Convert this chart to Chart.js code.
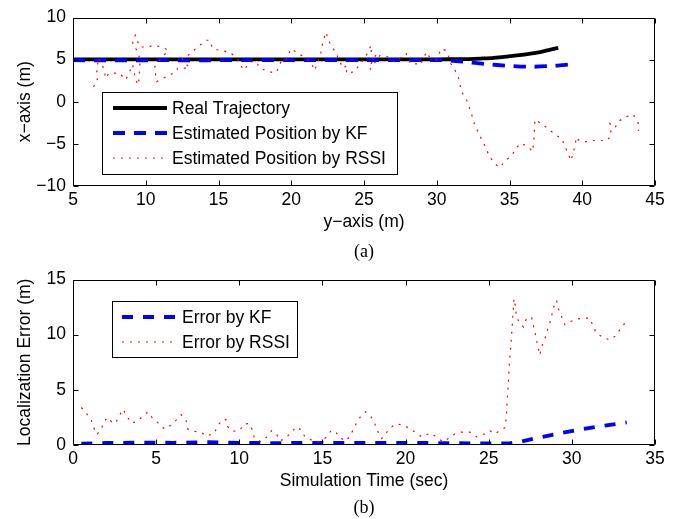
<!DOCTYPE html>
<html><head><meta charset="utf-8">
<script src="https://cdn.jsdelivr.net/npm/chart.js@4"></script>
<style>
html,body{margin:0;padding:0;background:#fff;}
#wrap{position:relative;width:681px;height:519px;overflow:hidden;background:#fff;}
canvas{position:absolute;left:0;}
#c1{top:0;} #c2{top:262px;}
.cap{position:absolute;left:73px;width:582px;text-align:center;font-family:"Liberation Serif","Times New Roman",serif;font-size:18px;color:#000;line-height:20px;}
#capA{top:241px;} #capB{top:497px;}
</style></head>
<body><div id="wrap">
<canvas id="c1" width="681" height="262"></canvas>
<canvas id="c2" width="681" height="257"></canvas>
<div class="cap" id="capA">(a)</div>
<div class="cap" id="capB">(b)</div>
</div>
<script>
// ---------- (a) trajectory: horizontal = "y-axis (m)", vertical = "x-axis (m)" ----------
const realY = [5, 10, 15, 20, 25, 30, 31.6, 33, 33.9, 35.5, 37.1, 38.35];
const realX = [5.03, 5.03, 5.03, 5.03, 5.03, 5.04, 5.06, 5.13, 5.2, 5.5, 5.9, 6.4];

const kfY = [5, 8, 11, 14, 17, 20, 23, 26, 29, 30.5, 31.9, 33.4, 34.9, 36.4, 37.9, 39.3];
const kfX = [4.93, 4.9, 4.93, 4.92, 4.95, 4.95, 4.93, 4.95, 4.95, 4.93, 4.74, 4.47, 4.27, 4.15, 4.25, 4.45];

const rssiY = [6.4, 6.7, 6.6, 6.7, 6.7, 7.0, 7.2, 7.2, 7.5, 7.8, 8.2, 8.6, 8.8, 9.1, 9.3, 9.5, 9.6, 9.6, 9.5, 9.1, 9.1, 9.3, 9.5, 9.6, 10.2, 10.5, 11.1, 11.55, 11.0, 10.6, 10.75, 11.2, 11.7, 12.1, 12.2, 12.7, 13.0, 12.5, 12.9, 13.3, 13.7, 14.2, 14.4, 14.6, 15.1, 15.7, 16.25, 16.5, 16.7, 17.05, 17.4, 17.6, 17.85, 18.4, 18.9, 19.2, 19.3, 19.6, 20.0, 20.5, 21.1, 21.4, 21.6, 22.0, 22.1, 22.2, 22.4, 22.5, 22.8, 23.1, 23.35, 23.6, 23.8, 23.8, 24.4, 24.7, 25.1, 25.3, 25.5, 25.5, 25.8, 25.5, 25.4, 26.1, 26.7, 27.1, 27.5, 27.9, 28.2, 28.7, 28.85, 29.3, 29.5, 30.0, 30.3, 30.6, 30.8, 30.9, 31.25, 31.5, 31.7, 32.05, 32.4, 32.6, 32.95, 33.3, 33.65, 34.1, 34.35, 34.7, 35.15, 35.5, 35.8, 36.3, 36.6, 36.7, 36.75, 37.3, 37.7, 38.1, 38.6, 38.8, 39.05, 39.2, 39.35, 39.5, 39.6, 39.7, 40.1, 40.6, 41.15, 41.7, 42.0, 41.9, 42.25, 42.5, 43.0, 43.5, 43.9, 43.85];
const rssiX = [1.8, 2.4, 3.2, 4.2, 5.2, 4.35, 3.6, 2.8, 3.4, 3.4, 3.4, 2.6, 3.2, 4.4, 2.6, 2.0, 4.2, 4.7, 5.9, 6.7, 7.5, 7.9, 6.9, 6.5, 6.5, 6.7, 6.5, 6.1, 5.0, 4.1, 2.4, 2.8, 3.2, 3.6, 4.0, 4.0, 4.0, 5.1, 5.5, 6.1, 6.7, 7.3, 7.3, 6.3, 6.1, 5.9, 5.3, 4.5, 3.75, 4.35, 4.9, 4.7, 4.0, 3.6, 3.4, 4.15, 4.9, 4.9, 6.3, 5.7, 5.1, 4.5, 3.7, 5.5, 6.4, 7.3, 8.25, 7.5, 6.5, 5.7, 4.7, 3.95, 4.35, 3.35, 3.6, 4.5, 5.2, 6.1, 6.7, 5.7, 5.5, 4.5, 3.8, 5.5, 5.3, 4.7, 5.2, 5.7, 4.5, 4.5, 4.35, 5.9, 5.3, 5.0, 6.3, 6.1, 5.5, 4.7, 3.75, 2.8, 1.2, 0.25, -1.5, -2.7, -4.0, -5.2, -6.6, -7.5, -7.8, -7.0, -6.4, -5.4, -4.9, -5.4, -5.9, -4.0, -2.1, -2.75, -3.25, -3.85, -4.4, -5.3, -6.2, -7.0, -6.3, -5.2, -4.2, -4.5, -4.8, -4.6, -4.6, -4.6, -4.0, -2.6, -3.1, -2.3, -1.8, -1.5, -2.7, -3.45];

const ticksA_h = [5, 10, 15, 20, 25, 30, 35, 40, 45];
const ticksA_v = [-10, -5, 0, 5, 10];

// ---------- (b) localization error ----------
const kfT = [0.5, 2, 4, 6, 8, 10, 12, 14, 16, 18, 20, 22, 24, 25.7, 26.3, 26.9, 27.9, 29.3, 30.5, 31.7, 33.3];
const kfErr = [0.12, 0.18, 0.22, 0.2, 0.25, 0.2, 0.17, 0.2, 0.18, 0.18, 0.2, 0.17, 0.15, 0.15, 0.16, 0.29, 0.64, 1.07, 1.4, 1.69, 2.05];

const rssiT = [0.5, 0.84, 1.1, 1.24, 1.44, 1.7, 1.9, 2.1, 2.4, 2.6, 2.8, 3.0, 3.25, 3.5, 3.8, 4.2, 4.5, 4.8, 5.2, 5.5, 5.9, 6.2, 6.5, 6.8, 6.9, 7.25, 7.7, 8.0, 8.5, 8.7, 9.0, 9.2, 9.3, 9.6, 10.0, 10.3, 10.6, 10.8, 10.9, 11.3, 11.65, 11.95, 12.25, 12.45, 12.75, 13.1, 13.45, 13.7, 13.95, 14.35, 14.85, 15.2, 15.5, 15.75, 16.0, 16.4, 16.65, 16.85, 17.05, 17.3, 17.6, 17.95, 18.15, 18.35, 18.55, 18.75, 19.0, 19.4, 19.85, 20.26, 20.67, 20.97, 21.47, 21.87, 22.23, 22.57, 22.97, 23.37, 23.87, 24.28, 24.77, 25.07, 25.37, 26.0, 26.08, 26.24, 26.38, 26.52, 26.58, 26.68, 26.84, 27.08, 27.28, 27.58, 27.68, 27.78, 27.88, 28.08, 28.18, 28.38, 28.48, 28.64, 28.78, 28.88, 29.08, 29.18, 29.38, 29.58, 29.92, 30.38, 30.78, 31.08, 31.28, 31.48, 31.85, 32.25, 32.65, 32.9, 33.2];
const rssiErr = [3.4, 2.8, 2.25, 1.6, 0.96, 1.45, 2.2, 2.5, 1.95, 2.1, 2.7, 3.25, 2.6, 2.0, 2.1, 2.6, 3.0, 2.4, 1.9, 1.45, 1.8, 2.25, 2.75, 2.2, 1.45, 1.25, 1.16, 0.8, 1.07, 1.75, 2.3, 2.3, 1.66, 1.25, 1.3, 1.9, 1.95, 1.3, 0.67, 0.3, 0.73, 1.3, 0.93, 0.38, 0.58, 1.1, 1.66, 1.37, 0.73, 0.44, 0.3, 0.67, 1.25, 1.3, 0.73, 0.35, 0.79, 1.37, 2.0, 2.6, 3.0, 2.5, 1.9, 1.16, 0.58, 0.87, 1.45, 1.9, 1.83, 1.46, 1.07, 0.73, 1.07, 0.73, 0.29, 0.58, 1.02, 1.16, 1.16, 0.73, 1.02, 1.3, 1.02, 1.6, 3.06, 7.3, 10.0, 13.25, 12.8, 11.5, 11.2, 10.7, 11.5, 11.55, 10.9, 10.2, 9.46, 8.15, 8.9, 9.6, 10.2, 10.9, 11.64, 12.4, 13.1, 12.4, 11.64, 10.9, 11.2, 11.44, 11.5, 11.5, 10.77, 10.1, 9.8, 9.52, 9.9, 10.5, 11.07];

const ticksB_h = [0, 5, 10, 15, 20, 25, 30, 35];
const ticksB_v = [0, 5, 10, 15];

// ---------- helpers ----------
const pts = (xs, ys) => xs.map((v, i) => ({x: v, y: ys[i]}));
const FONT = {family: '"Liberation Sans", Arial, Helvetica, sans-serif', size: 17.5};
const fmt = v => String(v).replace('-', '\u2212');
const DOT = [2, 6];

const boxPlugin = {
  id: 'boxTicks',
  afterDraw(chart, args, opts) {
    const ctx = chart.ctx, a = chart.chartArea, xs = chart.scales.x, ys = chart.scales.y;
    ctx.save();
    ctx.strokeStyle = '#000'; ctx.lineWidth = 1; ctx.setLineDash([]);
    const L = Math.round(a.left) + 0.5, R = Math.round(a.right) - 0.5, T = Math.round(a.top) + 0.5, B = Math.round(a.bottom) - 0.5;
    ctx.beginPath();
    ctx.rect(L, T, R - L, B - T);
    const tl = 5;
    xs.ticks.forEach(t => { const p = Math.round(xs.getPixelForValue(t.value)) + 0.5; ctx.moveTo(p, B); ctx.lineTo(p, B - tl); ctx.moveTo(p, T); ctx.lineTo(p, T + tl); });
    ys.ticks.forEach(t => { const p = Math.round(ys.getPixelForValue(t.value)) + 0.5; ctx.moveTo(L, p); ctx.lineTo(L + tl, p); ctx.moveTo(R, p); ctx.lineTo(R - tl, p); });
    ctx.stroke();
    const lg = opts.legend;
    if (lg) {
      ctx.fillStyle = '#fff';
      ctx.fillRect(lg.x, lg.y, lg.w, lg.h);
      ctx.strokeStyle = '#000'; ctx.lineWidth = 1;
      ctx.strokeRect(lg.x + 0.5, lg.y + 0.5, lg.w, lg.h);
      lg.items.forEach((it, i) => {
        const yy = lg.y + lg.row0 + i * lg.rowStep;
        ctx.beginPath();
        ctx.strokeStyle = it.color; ctx.lineWidth = it.width; ctx.setLineDash(it.dash || []);
        ctx.moveTo(lg.x + lg.lx0, yy); ctx.lineTo(lg.x + lg.lx1, yy);
        ctx.stroke();
        ctx.setLineDash([]);
        ctx.fillStyle = '#000';
        ctx.font = FONT.size + 'px ' + FONT.family;
        ctx.textBaseline = 'middle'; ctx.textAlign = 'left';
        ctx.fillText(it.label, lg.x + lg.tx, yy + 1);
      });
    }
    ctx.restore();
  }
};

function axis(min, max, tickArr, title, horiz, size) {
  return {
    type: 'linear', min: min, max: max,
    afterBuildTicks: s => { s.ticks = tickArr.map(v => ({value: v})); },
    grid: {display: false, drawTicks: false},
    border: {display: false},
    ticks: {color: '#000', font: FONT, padding: horiz ? 4 : 7, maxRotation: 0, autoSkip: false, callback: v => fmt(v)},
    title: {display: true, text: title, color: '#000', font: FONT, padding: 0},
    afterFit: s => { if (horiz) s.height = size; else s.width = size; }
  };
}

const RED = '#ff0000', BLUE = '#0000ff';

new Chart(document.getElementById('c1'), {
  type: 'scatter',
  data: {datasets: [
    {label: 'Real Trajectory', data: pts(realY, realX), showLine: true, borderColor: '#000', borderWidth: 3.8, pointRadius: 0, order: 3, tension: 0.3},
    {label: 'Estimated Position by KF', data: pts(kfY, kfX), showLine: true, borderColor: BLUE, borderWidth: 3.8, borderDash: [12, 9], pointRadius: 0, order: 2, tension: 0.3},
    {label: 'Estimated Position by RSSI', data: pts(rssiY, rssiX), showLine: true, borderColor: RED, borderWidth: 1.2, borderDash: DOT, pointRadius: 0, order: 1}
  ]},
  options: {
    responsive: false, animation: false, devicePixelRatio: 1,
    layout: {padding: {left: 15, right: 26, top: 15, bottom: 29}},
    scales: {
      x: axis(5, 45, ticksA_h, 'y\u2212axis (m)', true, 47),
      y: axis(-10, 10, ticksA_v, 'x\u2212axis (m)', false, 58)
    },
    plugins: {
      legend: {display: false}, tooltip: {enabled: false},
      boxTicks: {legend: {x: 102, y: 92, w: 295, h: 82, row0: 16, rowStep: 25, lx0: 11, lx1: 65, tx: 70, items: [
        {label: 'Real Trajectory', color: '#000', width: 3.8},
        {label: 'Estimated Position by KF', color: BLUE, width: 3.8, dash: [12, 9]},
        {label: 'Estimated Position by RSSI', color: RED, width: 1.2, dash: DOT}
      ]}}
    }
  },
  plugins: [boxPlugin]
});

new Chart(document.getElementById('c2'), {
  type: 'scatter',
  data: {datasets: [
    {label: 'Error by KF', data: pts(kfT, kfErr), showLine: true, borderColor: BLUE, borderWidth: 3.8, borderDash: [11, 10], pointRadius: 0, order: 2},
    {label: 'Error by RSSI', data: pts(rssiT, rssiErr), showLine: true, borderColor: RED, borderWidth: 1.2, borderDash: DOT, pointRadius: 0, order: 1}
  ]},
  options: {
    responsive: false, animation: false, devicePixelRatio: 1,
    layout: {padding: {left: 15, right: 26, top: 11, bottom: 27}},
    scales: {
      x: axis(0, 35, ticksB_h, 'Simulation Time (sec)', true, 47),
      y: axis(0, 15, ticksB_v, 'Localization Error (m)', false, 58)
    },
    plugins: {
      legend: {display: false}, tooltip: {enabled: false},
      boxTicks: {legend: {x: 112, y: 39, w: 185, h: 56, row0: 16, rowStep: 25, lx0: 10, lx1: 63, tx: 70, items: [
        {label: 'Error by KF', color: BLUE, width: 3.8, dash: [11, 10]},
        {label: 'Error by RSSI', color: RED, width: 1.2, dash: DOT}
      ]}}
    }
  },
  plugins: [boxPlugin]
});
</script>
</body></html>
